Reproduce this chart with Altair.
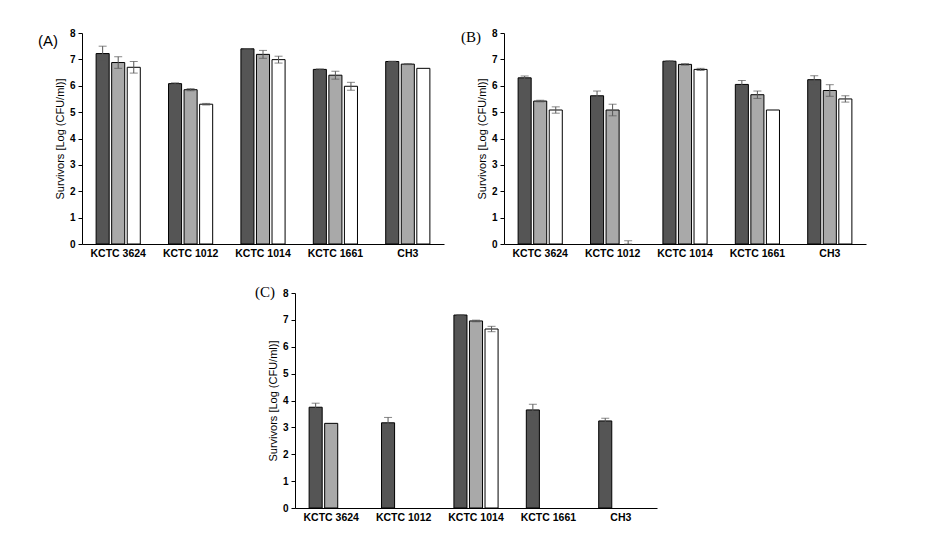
import altair as alt
import pandas as pd

strains = ["KCTC 3624", "KCTC 1012", "KCTC 1014", "KCTC 1661", "CH3"]
series = ["s1", "s2", "s3"]
colors = ["#555555", "#a9a9a9", "#ffffff"]

# values per strain, for series s1, s2, s3
a_vals = [[7.22, 6.88, 6.70], [6.08, 5.85, 5.30], [7.40, 7.19, 6.99], [6.62, 6.40, 5.98], [6.92, 6.82, 6.66]]
a_errs = [[0.28, 0.22, 0.22], [0.03, 0.04, 0.03], [0.01, 0.15, 0.13], [0.02, 0.15, 0.15], [0.01, 0.02, 0.0]]

b_vals = [[6.30, 5.42, 5.08], [5.62, 5.08, 0.0], [6.93, 6.81, 6.62], [6.05, 5.66, 5.08], [6.23, 5.82, 5.50]]
b_errs = [[0.07, 0.03, 0.12], [0.18, 0.22, 0.12], [0.02, 0.03, 0.04], [0.15, 0.14, 0.0], [0.15, 0.22, 0.12]]

c_vals = [[3.75, 3.15, 0.0], [3.17, 0.0, 0.0], [7.18, 6.96, 6.66], [3.65, 0.0, 0.0], [3.24, 0.0, 0.0]]
c_errs = [[0.15, 0.0, 0.0], [0.20, 0.0, 0.0], [0.01, 0.03, 0.10], [0.21, 0.0, 0.0], [0.10, 0.0, 0.0]]
y_ticks = [0, 1, 2, 3, 4, 5, 6, 7, 8]

LABEL_FONT = "Liberation Sans"


def make_df(vals, errs):
    rows = []
    for i, s in enumerate(strains):
        for j, ser in enumerate(series):
            v = vals[i][j]
            e = errs[i][j]
            rows.append({"strain": s, "series": ser, "value": v, "err": e,
                         "lower": max(0.0, v - e), "upper": v + e})
    return pd.DataFrame(rows)


def panel(vals, errs, label, title_font, dx, dy, height):
    df = make_df(vals, errs)
    base = alt.Chart(df)
    x = alt.X("strain:N", sort=strains,
              scale=alt.Scale(domain=strains, paddingInner=0.39, paddingOuter=0.195),
              axis=alt.Axis(title=None, ticks=False, labelAngle=0, labelPadding=4,
                            labelFont=LABEL_FONT, labelFontSize=10.5, labelFontWeight="bold",
                            labelColor="black", domainColor="black"))
    xo = alt.XOffset("series:N", sort=series,
                     scale=alt.Scale(domain=series, paddingInner=0.16, paddingOuter=0))
    y_axis = alt.Axis(title="Survivors [Log (CFU/ml)]", values=y_ticks, grid=False,
                      labelOverlap=False, tickSize=4, labelPadding=3, titlePadding=4,
                      labelFont=LABEL_FONT, labelFontSize=10, labelFontWeight="bold",
                      titleFont=LABEL_FONT, titleFontSize=11, titleFontWeight="normal",
                      labelColor="black", titleColor="black",
                      domainColor="black", tickColor="black")
    y_scale = alt.Scale(domain=[0, 8], nice=False)

    def yenc(field):
        return alt.Y(field, type="quantitative", scale=y_scale, axis=y_axis)

    bars = base.transform_filter("datum.value > 0").mark_bar(
        stroke="black", strokeWidth=1).encode(
        x=x, xOffset=xo, y=yenc("value"),
        color=alt.Color("series:N", scale=alt.Scale(domain=series, range=colors), legend=None),
    )
    errb = base.transform_filter("datum.err > 0")
    rules = errb.mark_rule(color="#555555", strokeWidth=1).encode(
        x=x, xOffset=xo, y=yenc("lower"), y2="upper:Q")
    cap_top = errb.mark_tick(color="#555555", size=8, thickness=1).encode(
        x=x, xOffset=xo, y=yenc("upper"))
    cap_bot = errb.mark_tick(color="#555555", size=8, thickness=1).encode(
        x=x, xOffset=xo, y=yenc("lower"))
    return alt.layer(bars, rules, cap_top, cap_bot).properties(
        width=362, height=height,
        title=alt.TitleParams(label, anchor="start", frame="group", orient="top",
                              dx=dx, dy=dy, offset=0, font=title_font, fontSize=15,
                              fontWeight="normal", color="black"),
    )


pa = panel(a_vals, a_errs, "(A)", "Liberation Sans", -44, 21, 211)
pb = panel(b_vals, b_errs, "(B)", "Liberation Serif", -43, 17, 211)
pc = panel(c_vals, c_errs, "(C)", "Liberation Serif", -40, 12, 215)

spacer = alt.Chart(pd.DataFrame({"a": [0]})).mark_point(opacity=0).properties(width=173, height=1)

top = alt.hconcat(pa, pb, spacing=17)
bottom = alt.hconcat(spacer, pc, spacing=0)

chart = alt.vconcat(top, bottom, spacing=26).properties(
    padding={"left": 30, "top": 20, "right": 5, "bottom": 5}
).configure_view(strokeWidth=0)

chart.save("out.html", embed_options={"renderer": "svg", "actions": False})
